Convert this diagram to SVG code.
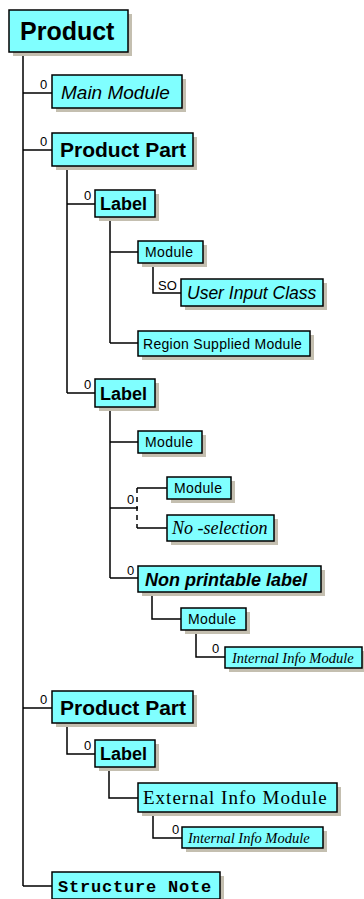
<svg xmlns="http://www.w3.org/2000/svg" width="364" height="899" viewBox="0 0 364 899">
<defs>
<style>
.box{fill:#80ffff;stroke:#000;stroke-width:1.5}
.sh{fill:#c4bfb0}
.ln{fill:none;stroke:#000;stroke-width:1.5}
.dl{fill:none;stroke:#000;stroke-width:1.5;stroke-dasharray:5 4}
.z{font-family:"Liberation Sans",Arial,sans-serif;font-size:13px;fill:#000}
.t{fill:#000}
.sans{font-family:"Liberation Sans",Arial,sans-serif}
.serif{font-family:"Liberation Serif","Times New Roman",serif}
.mono{font-family:"Liberation Mono","Courier New",monospace}
.mod{font-family:"Liberation Sans",Arial,sans-serif;font-size:14px;letter-spacing:0.4px}
</style>
</defs>
<rect width="364" height="899" fill="#fff"/>
<g id="connectors">
<path class="ln" d="M23 52V886M23 93H52M23 150H52M23 708H52M23 886H52"/>
<path class="ln" d="M67 166V393M67 204H95M67 393H95"/>
<path class="ln" d="M110 217V343M110 252H138M110 343H138"/>
<path class="ln" d="M153 263V293H181"/>
<path class="ln" d="M110 407V578M110 442H138M110 578H138M110 508H138"/>
<path class="ln" d="M137 488H167M137 528H167"/>
<path class="dl" d="M137 488V528"/>
<path class="ln" d="M152 592V619H181"/>
<path class="ln" d="M196 630V657H225"/>
<path class="ln" d="M67 723V754H95"/>
<path class="ln" d="M109 767V798H138"/>
<path class="ln" d="M153 812V838H182"/>
<text class="z" x="40" y="89">0</text>
<text class="z" x="40" y="146">0</text>
<text class="z" x="84" y="200">0</text>
<text class="z" x="158" y="290">SO</text>
<text class="z" x="84" y="389">0</text>
<text class="z" x="127" y="504">0</text>
<text class="z" x="127" y="575">0</text>
<text class="z" x="212" y="653">0</text>
<text class="z" x="40" y="704">0</text>
<text class="z" x="84" y="750">0</text>
<text class="z" x="172" y="834">0</text>
</g>
<g id="product"><rect class="sh" x="13" y="14" width="119" height="42"/><rect class="box" x="9" y="10" width="119" height="42"/><text class="t sans" x="20" y="40" font-size="25" font-weight="bold">Product</text></g>
<g id="main-module"><rect class="sh" x="56" y="79" width="130" height="33"/><rect class="box" x="52" y="75" width="130" height="33"/><text class="t sans" x="61" y="98.5" font-size="19" font-style="italic">Main Module</text></g>
<g id="product-part-1"><rect class="sh" x="56" y="137" width="141" height="33"/><rect class="box" x="52" y="133" width="141" height="33"/><text class="t sans" x="60" y="157" font-size="21" font-weight="bold">Product Part</text></g>
<g id="label-1"><rect class="sh" x="99" y="194" width="60" height="27"/><rect class="box" x="95" y="190" width="60" height="27"/><text class="t sans" x="100" y="210" font-size="18" font-weight="bold">Label</text></g>
<g id="module-1"><rect class="sh" x="142" y="245" width="65" height="22"/><rect class="box" x="138" y="241" width="65" height="22"/><text class="t mod" x="145" y="257">Module</text></g>
<g id="user-input-class"><rect class="sh" x="185" y="283" width="142" height="27"/><rect class="box" x="181" y="279" width="142" height="27"/><text class="t sans" x="187" y="299" font-size="17.5" font-style="italic">User Input Class</text></g>
<g id="region-supplied-module"><rect class="sh" x="142" y="335" width="172" height="25"/><rect class="box" x="138" y="331" width="172" height="25"/><text class="t sans" x="143" y="348.5" font-size="14" letter-spacing="0.3">Region Supplied Module</text></g>
<g id="label-2"><rect class="sh" x="99" y="383" width="60" height="28"/><rect class="box" x="95" y="379" width="60" height="28"/><text class="t sans" x="100" y="399.5" font-size="18" font-weight="bold">Label</text></g>
<g id="module-2"><rect class="sh" x="142" y="435" width="64" height="22"/><rect class="box" x="138" y="431" width="64" height="22"/><text class="t mod" x="145" y="447">Module</text></g>
<g id="module-3"><rect class="sh" x="171" y="481" width="64" height="22"/><rect class="box" x="167" y="477" width="64" height="22"/><text class="t mod" x="174" y="493">Module</text></g>
<g id="no-selection"><rect class="sh" x="171" y="519" width="107" height="26"/><rect class="box" x="167" y="515" width="107" height="26"/><text class="t serif" x="172" y="534" font-size="18" font-style="italic">No -selection</text></g>
<g id="non-printable-label"><rect class="sh" x="142" y="570" width="183" height="26"/><rect class="box" x="138" y="566" width="183" height="26"/><text class="t sans" x="145" y="585.5" font-size="18" font-weight="bold" font-style="italic">Non printable label</text></g>
<g id="module-4"><rect class="sh" x="185" y="612" width="65" height="22"/><rect class="box" x="181" y="608" width="65" height="22"/><text class="t mod" x="188" y="624">Module</text></g>
<g id="internal-info-module-1"><rect class="sh" x="229" y="651" width="137" height="21"/><rect class="box" x="225" y="647" width="137" height="21"/><text class="t serif" x="232" y="662.5" font-size="14.5" font-style="italic">Internal Info Module</text></g>
<g id="product-part-2"><rect class="sh" x="56" y="695" width="141" height="32"/><rect class="box" x="52" y="691" width="141" height="32"/><text class="t sans" x="60" y="714.5" font-size="21" font-weight="bold">Product Part</text></g>
<g id="label-3"><rect class="sh" x="99" y="744" width="60" height="27"/><rect class="box" x="95" y="740" width="60" height="27"/><text class="t sans" x="100" y="760" font-size="18" font-weight="bold">Label</text></g>
<g id="external-info-module"><rect class="sh" x="142" y="787" width="199" height="29"/><rect class="box" x="138" y="783" width="199" height="29"/><text class="t serif" x="143" y="804" font-size="19" letter-spacing="1">External Info Module</text></g>
<g id="internal-info-module-2"><rect class="sh" x="186" y="831" width="141" height="21"/><rect class="box" x="182" y="827" width="141" height="21"/><text class="t serif" x="188" y="842.5" font-size="14.5" font-style="italic">Internal Info Module</text></g>
<g id="structure-note"><rect class="sh" x="56" y="876" width="168" height="27"/><rect class="box" x="52" y="872" width="168" height="27"/><text class="t mono" x="58" y="892" font-size="17" font-weight="bold" letter-spacing="0.8">Structure Note</text></g>
</svg>
